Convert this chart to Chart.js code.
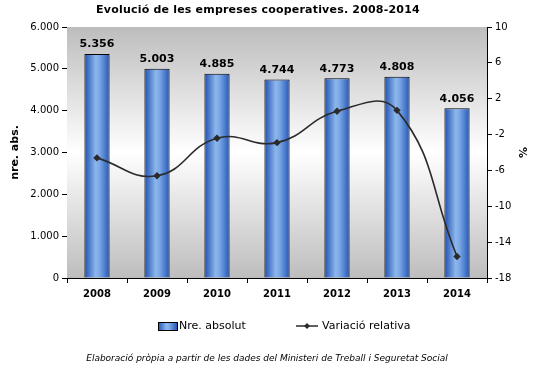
<!DOCTYPE html>
<html>
<head>
<meta charset="utf-8">
<script src="https://cdn.jsdelivr.net/npm/chart.js@4"></script>
<style>
  html, body { margin: 0; padding: 0; background: #fff; }
  #wrap { width: 539px; height: 374px; }
</style>
</head>
<body>
<div id="wrap"><canvas id="coopChart" width="539" height="374"></canvas></div>
<script>
// data
const years = ['2008', '2009', '2010', '2011', '2012', '2013', '2014'];
const absolut = [5356, 5003, 4885, 4744, 4773, 4808, 4056];
const variacio = [-4.6, -6.6, -2.4, -2.9, 0.6, 0.7, -15.6];
const leftTicks = [0, 1000, 2000, 3000, 4000, 5000, 6000];
const rightTicks = [-18, -14, -10, -6, -2, 2, 6, 10];

const FONT = 'DejaVu Sans, Verdana, sans-serif';
const BAR_PCT = 0.42;

function fmt(n) {
    // catalan style thousands with a dot
    return String(n).replace(/\B(?=(\d{3})+(?!\d))/g, '.');
}

// grey-white-grey background of the plot area
const plotBg = {
    id: 'plotBg',
    beforeDatasetsDraw(chart) {
        const { ctx, chartArea: a } = chart;
        const g = ctx.createLinearGradient(0, a.top, 0, a.bottom);
        g.addColorStop(0, '#bdbdbd');
        g.addColorStop(0.5, '#ffffff');
        g.addColorStop(1, '#bdbdbd');
        ctx.save();
        ctx.fillStyle = g;
        ctx.fillRect(a.left, a.top, a.right - a.left, a.bottom - a.top);
        ctx.restore();
    }
};

// horizontal gradient on each bar
function barGradient(ctx, x0, x1) {
    const g = ctx.createLinearGradient(x0, 0, x1, 0);
    g.addColorStop(0, '#1f4fb0');
    g.addColorStop(0.45, '#8db7ec');
    g.addColorStop(0.6, '#7aa8e6');
    g.addColorStop(1, '#2456b8');
    return g;
}

function barFill(c) {
    const xs = c.chart.scales.x;
    if (c.type !== 'data' || !xs || !c.chart.chartArea) return '#4f86d6';
    const cx = xs.getPixelForValue(c.dataIndex);
    const half = (xs.width / years.length) * BAR_PCT / 2;
    return barGradient(c.chart.ctx, cx - half, cx + half);
}

const barLabels = {
    id: 'barLabels',
    afterDatasetsDraw(chart) {
        // value labels above the bars
        const { ctx } = chart;
        const meta = chart.getDatasetMeta(1);
        ctx.save();
        ctx.font = 'bold 11px ' + FONT;
        ctx.fillStyle = '#000';
        ctx.textAlign = 'center';
        ctx.textBaseline = 'bottom';
        meta.data.forEach((el, i) => {
            ctx.fillText(fmt(absolut[i]), el.x, el.y - 4);
        });
        ctx.restore();
    }
};

// title, legend and source note
const extras = {
    id: 'extras',
    afterDraw(chart) {
        const { ctx } = chart;
        ctx.save();
        ctx.fillStyle = '#000';
        ctx.textBaseline = 'middle';

        ctx.font = 'bold 11px ' + FONT;
        ctx.textAlign = 'center';
        ctx.letterSpacing = '0.2px';
        ctx.fillText('Evolució de les empreses cooperatives. 2008-2014', 258, 10);
        ctx.letterSpacing = '0px';

        // legend
        ctx.fillStyle = barGradient(ctx, 158, 177);
        ctx.fillRect(158, 322, 19, 8);
        ctx.strokeStyle = '#000';
        ctx.lineWidth = 1;
        ctx.strokeRect(158.5, 322.5, 19, 8);
        ctx.fillStyle = '#000';
        ctx.font = '11px ' + FONT;
        ctx.textAlign = 'left';
        ctx.fillText('Nre. absolut', 179, 326);

        ctx.strokeStyle = '#2b2b2b';
        ctx.lineWidth = 1.5;
        ctx.beginPath();
        ctx.moveTo(296, 326);
        ctx.lineTo(318, 326);
        ctx.stroke();
        ctx.fillStyle = '#2b2b2b';
        ctx.beginPath();
        ctx.moveTo(307, 323);
        ctx.lineTo(310, 326);
        ctx.lineTo(307, 329);
        ctx.lineTo(304, 326);
        ctx.closePath();
        ctx.fill();
        ctx.fillStyle = '#000';
        ctx.fillText('Variació relativa', 322, 326);

        ctx.font = 'italic 9px ' + FONT;
        ctx.textAlign = 'center';
        ctx.fillText('Elaboració pròpia a partir de les dades del Ministeri de Treball i Seguretat Social', 267, 359);
        ctx.restore();
    }
};

new Chart(document.getElementById('coopChart'), {
    data: {
        labels: years,
        datasets: [{
            type: 'line',
            label: 'Variació relativa',
            data: variacio,
            yAxisID: 'y1',
            borderColor: '#2b2b2b',
            borderWidth: 1.6,
            tension: 0.45,
            pointStyle: 'rectRot',
            pointRadius: 2.6,
            pointBackgroundColor: '#2b2b2b',
            pointBorderColor: '#2b2b2b',
            order: 0
        }, {
            type: 'bar',
            label: 'Nre. absolut',
            data: absolut,
            yAxisID: 'y',
            backgroundColor: barFill,
            borderColor: '#000',
            borderWidth: 1,
            barPercentage: BAR_PCT,
            categoryPercentage: 1,
            order: 1
        }]
    },
    options: {
        responsive: false,
        animation: false,
        layout: { padding: { top: 27, bottom: 66, left: 0, right: 0 } },
        plugins: {
            legend: { display: false },
            title: { display: false },
            tooltip: { enabled: false }
        },
        scales: {
            x: {
                grid: { drawOnChartArea: false, color: '#000', tickLength: 5, offset: true },
                border: { color: '#000' },
                ticks: { color: '#000', font: { family: FONT, size: 10, weight: 'bold' }, padding: 5 },
                afterFit(s) { s.height = 30; }
            },
            y: {
                position: 'left',
                min: 0,
                max: 6000,
                afterBuildTicks(s) { s.ticks = leftTicks.map(v => ({ value: v })); },
                grid: { drawOnChartArea: false, color: '#000', tickLength: 5 },
                border: { color: '#000' },
                ticks: {
                    color: '#000',
                    font: { family: FONT, size: 10 },
                    padding: 3,
                    callback: (v) => fmt(v)
                },
                title: {
                    display: true,
                    text: 'nre. abs.',
                    color: '#000',
                    font: { family: FONT, size: 11, weight: 'bold' },
                    padding: { top: 9, bottom: 0 }
                },
                afterFit(s) { s.width = 67; }
            },
            y1: {
                position: 'right',
                min: -18,
                max: 10,
                afterBuildTicks(s) { s.ticks = rightTicks.map(v => ({ value: v })); },
                grid: { drawOnChartArea: false, color: '#000', tickLength: 5 },
                border: { color: '#000' },
                ticks: { color: '#000', font: { family: FONT, size: 10 }, padding: 3 },
                title: {
                    display: true,
                    text: '%',
                    color: '#000',
                    font: { family: FONT, size: 11, weight: 'bold' },
                    padding: { top: 11, bottom: 0 }
                },
                afterFit(s) { s.width = 52; }
            }
        }
    },
    plugins: [plotBg, barLabels, extras]
});
</script>
</body>
</html>
